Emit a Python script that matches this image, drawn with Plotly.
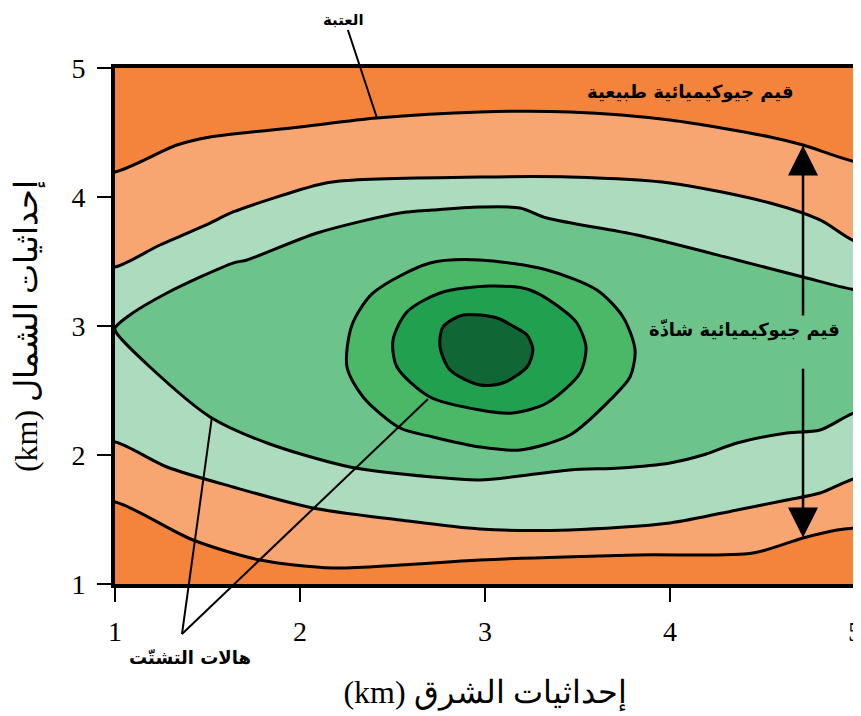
import plotly.graph_objects as go

# ---------------- data ----------------
# threshold contour (orange / light orange, top)
c1_x = [1.0, 1.335, 1.514, 2.0, 2.416, 2.973, 3.459, 4.0, 4.541, 4.719, 5.011]
c1_y = [4.194, 4.403, 4.465, 4.543, 4.612, 4.659, 4.659, 4.597, 4.465, 4.403, 4.271]
# light orange / orange, bottom
c1b_x = [1.0, 1.422, 1.784, 2.178, 2.541, 2.973, 3.822, 4.449, 4.719, 4.903, 5.011]
c1b_y = [1.636, 1.341, 1.186, 1.124, 1.147, 1.186, 1.225, 1.240, 1.357, 1.419, 1.434]
# light orange / pale green
c2t_x = [1.0, 1.243, 1.514, 1.638, 2.092, 2.216, 2.973, 3.459, 4.0, 4.541, 4.811, 5.011]
c2t_y = [3.457, 3.628, 3.798, 3.884, 4.093, 4.124, 4.155, 4.155, 4.109, 3.953, 3.822, 3.651]
c2b_x = [1.0, 1.281, 1.638, 2.070, 2.541, 2.973, 3.459, 4.0, 4.362, 4.632, 4.811, 5.011]
c2b_y = [2.101, 1.907, 1.752, 1.589, 1.496, 1.426, 1.419, 1.473, 1.574, 1.651, 1.705, 1.822]
# pale green / medium green
c3t_x = [1.0, 1.065, 1.281, 1.638, 1.714, 2.092, 2.541, 2.719, 2.973, 3.189, 3.335, 3.822, 4.362, 4.719, 5.011]
c3t_y = [2.984, 3.070, 3.256, 3.488, 3.512, 3.721, 3.876, 3.899, 3.922, 3.915, 3.837, 3.705, 3.512, 3.380, 3.279]
c3b_x = [1.005, 1.189, 1.514, 1.822, 2.270, 2.719, 2.973, 3.459, 3.730, 4.0, 4.178, 4.362, 4.632, 4.811, 5.011]
c3b_y = [2.953, 2.682, 2.295, 2.093, 1.907, 1.829, 1.806, 1.884, 1.899, 1.938, 2.0, 2.093, 2.171, 2.194, 2.333]
# closed inner contours
c4_x = [2.973, 3.335, 3.605, 3.746, 3.811, 3.784, 3.676, 3.459, 3.189, 2.973, 2.719, 2.541, 2.341, 2.254, 2.281, 2.395, 2.703]
c4_y = [3.512, 3.434, 3.279, 3.070, 2.814, 2.605, 2.426, 2.155, 2.039, 2.062, 2.140, 2.209, 2.450, 2.682, 3.008, 3.256, 3.488]
c5_x = [3.027, 3.243, 3.422, 3.497, 3.546, 3.514, 3.335, 3.151, 2.973, 2.703, 2.524, 2.503, 2.578, 2.757]
c5_y = [3.310, 3.279, 3.124, 3.023, 2.837, 2.636, 2.403, 2.326, 2.349, 2.450, 2.682, 2.891, 3.109, 3.256]
c6_x = [2.881, 3.065, 3.151, 3.227, 3.259, 3.227, 3.097, 2.973, 2.811, 2.757, 2.773]
c6_y = [3.085, 3.062, 3.000, 2.930, 2.814, 2.682, 2.558, 2.543, 2.659, 2.837, 2.992]

tick_vals = [1, 2, 3, 4, 5]
tick_text = ["1", "2", "3", "4", "5"]

x_title = "\u202Bإحداثيات الشرق (km)\u202C"
y_title = "\u202Bإحداثيات الشمال (km)\u202C"
lbl_threshold = "العتبة"
lbl_natural = "قيم جيوكيميائية طبيعية"
lbl_anomal = "قيم جيوكيميائية شاذّة"
lbl_halo = "هالات التشتّت"

# ---------------- styles ----------------
C_OUT = "#F4843C"
C_LO = "#F7A571"
C_PG = "#ADDBBE"
C_MG = "#6DC48B"
C_G = "#4AB866"
C_DG = "#21A04F"
C_DDG = "#116635"

fig = go.Figure()
LINE = dict(color="black", width=3, shape="spline", smoothing=0.8)


def closed(xs, ys):
    return list(xs) + [xs[0]], list(ys) + [ys[0]]


def band(tx, ty, bx, by):
    # extend outside the frame so edges are clipped
    xs = [0.8] + list(tx) + [5.2, 5.2] + list(bx)[::-1] + [0.8, 0.8]
    ys = [ty[0]] + list(ty) + [ty[-1], by[-1]] + list(by)[::-1] + [by[0], ty[0]]
    return xs, ys


for (tx, ty, bx, by, col) in [
    (c1_x, c1_y, c1b_x, c1b_y, C_LO),
    (c2t_x, c2t_y, c2b_x, c2b_y, C_PG),
]:
    xs, ys = band(tx, ty, bx, by)
    fig.add_trace(go.Scatter(x=xs, y=ys, mode="lines", fill="toself", fillcolor=col,
                             line=LINE, hoverinfo="skip"))

# medium green: pointed tip on the left edge
xs = list(c3t_x) + [5.2, 5.2] + list(c3b_x)[::-1] + [c3t_x[0]]
ys = list(c3t_y) + [c3t_y[-1], c3b_y[-1]] + list(c3b_y)[::-1] + [c3t_y[0]]
fig.add_trace(go.Scatter(x=xs, y=ys, mode="lines", fill="toself", fillcolor=C_MG,
                         line=LINE, hoverinfo="skip"))

for (cx, cy, col) in [(c4_x, c4_y, C_G), (c5_x, c5_y, C_DG), (c6_x, c6_y, C_DDG)]:
    xs, ys = closed(cx, cy)
    fig.add_trace(go.Scatter(x=xs, y=ys, mode="lines", fill="toself", fillcolor=col,
                             line=LINE, hoverinfo="skip"))


def P(x, y):
    # data -> paper (axes span exactly [1,5] on both directions)
    return (x - 1) / 4.0, (y - 1) / 4.0


def pline(x0, y0, x1, y1, w=2):
    a, b = P(x0, y0)
    c, d = P(x1, y1)
    fig.add_shape(type="line", xref="paper", yref="paper", x0=a, y0=b, x1=c, y1=d,
                  line=dict(color="black", width=w))


# threshold leader
pline(2.259, 5.295, 2.416, 4.612)
# halo leaders
pline(1.362, 0.612, 1.524, 2.295)
pline(1.362, 0.612, 2.692, 2.434)

ARW = 4.719
fig.add_annotation(x=ARW, y=4.40, ax=ARW, ay=3.07, xref="x", yref="y", axref="x", ayref="y",
                   text="", showarrow=True, arrowhead=2, arrowsize=2.4, arrowwidth=2.5, arrowcolor="black")
fig.add_annotation(x=ARW, y=1.36, ax=ARW, ay=2.68, xref="x", yref="y", axref="x", ayref="y",
                   text="", showarrow=True, arrowhead=2, arrowsize=2.4, arrowwidth=2.5, arrowcolor="black")

BOLD = dict(family="DejaVu Sans", size=18, color="black", weight="bold")
fig.add_annotation(x=4.405, y=2.969, xref="x", yref="y", text=lbl_anomal, showarrow=False, font=BOLD,
                   xanchor="center", yanchor="middle")
fig.add_annotation(x=4.108, y=4.814, xref="x", yref="y", text=lbl_natural, showarrow=False, font=BOLD,
                   xanchor="center", yanchor="middle")
tx, ty = P(2.235, 5.37)
fig.add_annotation(x=tx, y=ty, xref="paper", yref="paper", text=lbl_threshold, showarrow=False,
                   xanchor="center", yanchor="middle",
                   font=dict(family="DejaVu Sans", size=15, color="black", weight="bold"))
hx, hy = P(1.405, 0.434)
fig.add_annotation(x=hx, y=hy, xref="paper", yref="paper", text=lbl_halo, showarrow=False,
                   xanchor="center", yanchor="middle", font=BOLD)

SERIF = "Liberation Serif, DejaVu Serif, serif"
axis_common = dict(range=[1, 5], tickvals=tick_vals, ticktext=tick_text, showgrid=False, zeroline=False,
                   showline=True, linecolor="black", linewidth=4, mirror=True, automargin=False,
                   ticks="outside", ticklen=14, tickwidth=2, tickcolor="black", ticklabeloverflow="allow",
                   tickfont=dict(family=SERIF, size=28, color="black"))
fig.update_xaxes(**axis_common, ticklabelstandoff=5,
                 title=dict(text=x_title, font=dict(family=SERIF, size=32, color="black"), standoff=36))
fig.update_yaxes(**axis_common, ticklabelstandoff=6,
                 title=dict(text=y_title, font=dict(family=SERIF, size=32, color="black"), standoff=27))

# the page adds an 8px body margin; the figure is sized/offset to compensate
fig.update_layout(width=853, height=708, plot_bgcolor=C_OUT, paper_bgcolor="white",
                  margin=dict(l=107, r=6, t=60, b=132), showlegend=False)

fig.write_html("out.html")
